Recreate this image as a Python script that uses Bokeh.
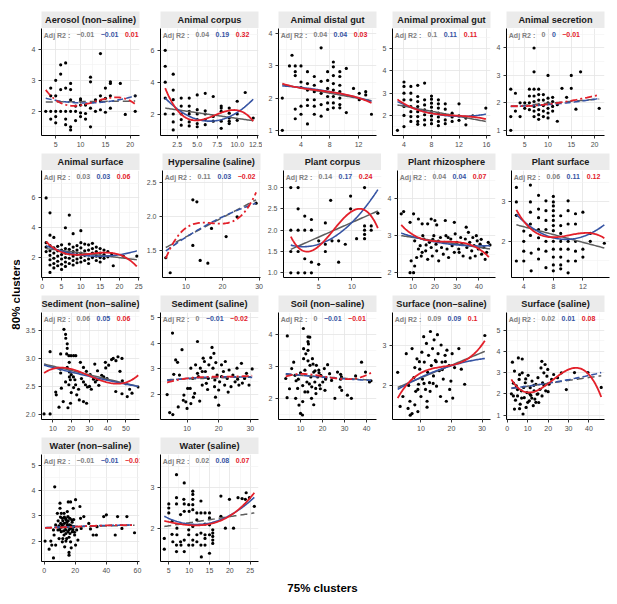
import numpy as np
from bokeh.plotting import figure
from bokeh.layouts import row, column
from bokeh.models import FixedTicker, Range1d, Spacer, PrintfTickFormatter
from bokeh.core.properties import value
from bokeh.embed import file_html
from bokeh.resources import INLINE

# ---------------- data ----------------
names = ["Aerosol (non–saline)", "Animal corpus", "Animal distal gut", "Animal proximal gut", "Animal secretion",
         "Animal surface", "Hypersaline (saline)", "Plant corpus", "Plant rhizosphere", "Plant surface",
         "Sediment (non–saline)", "Sediment (saline)", "Soil (non–saline)", "Surface (non–saline)", "Surface (saline)",
         "Water (non–saline)", "Water (saline)"]

r2_gray = [-0.01, 0.04, 0.04, 0.1, 0, 0.03, 0.11, 0.14, 0.04, 0.06, 0.06, 0, 0, 0.09, 0.02, -0.01, 0.02]
r2_blue = [-0.01, 0.19, 0.04, 0.11, 0, 0.03, 0.03, 0.17, 0.04, 0.11, 0.05, -0.01, -0.01, 0.09, 0.01, -0.01, 0.08]
r2_red = [0.01, 0.32, 0.03, 0.11, -0.01, 0.06, -0.02, 0.24, 0.07, 0.12, 0.06, -0.02, -0.01, 0.1, 0.08, -0.01, 0.07]

# dashed (non-significant) flags for gray / blue / red fits
dashed = [(1, 1, 1), (0, 0, 0), (0, 0, 0), (0, 0, 0), (1, 1, 1), (0, 0, 0), (1, 1, 1), (0, 0, 0), (0, 0, 0),
          (0, 0, 0), (0, 0, 0), (1, 1, 1), (1, 1, 1), (0, 0, 0), (1, 1, 0), (1, 1, 1), (1, 0, 0)]

x_limits = [(2.14, 21.86), (0.41, 12.66), (0.87, 14.5), (2.33, 16.58), (1.08, 22.14),
            (-0.2, 25.2), (3.6, 30.4), (-0.3, 14.45), (3.0, 47.5), (2.34, 15.6),
            (3.7, 57.4), (1.6, 32.6), (0.0, 44.5), (0.7, 32.75), (-0.4, 47.6),
            (-1.7, 61.3), (2.97, 27.03)]
y_limits = [(1.22, 4.67), (0.65, 7.37), (0.84, 4.16), (1.1, 5.9), (0.81, 4.71),
            (0.66, 7.84), (1.11, 2.68), (0.89, 3.4), (1.87, 4.76), (1.08, 3.8),
            (1.91, 3.82), (1.03, 5.2), (1.34, 4.68), (1.14, 3.84), (0.79, 5.83),
            (1.19, 5.43), (1.19, 3.79)]
x_ticks = [[5, 10, 15, 20], [2.5, 5.0, 7.5, 10.0, 12.5], [4, 8, 12], [4, 8, 12, 16], [5, 10, 15, 20],
           [0, 5, 10, 15, 20, 25], [10, 20, 30], [5, 10], [10, 20, 30, 40], [4, 8, 12],
           [10, 20, 30, 40, 50], [10, 20, 30], [10, 20, 30, 40], [10, 20, 30], [0, 10, 20, 30, 40],
           [0, 20, 40, 60], [5, 10, 15, 20, 25]]
y_ticks = [[2, 3, 4], [2, 4, 6], [1, 2, 3, 4], [2, 3, 4, 5], [1, 2, 3, 4],
           [2, 4, 6], [1.5, 2.0, 2.5], [1.0, 1.5, 2.0, 2.5, 3.0], [2, 3, 4], [2, 3],
           [2.0, 2.5, 3.0, 3.5], [2, 3, 4, 5], [2, 3, 4], [2, 3], [1, 2, 3, 4, 5],
           [2, 3, 4, 5], [2, 3]]

aerosol_pts = [(3, 2.0), (4, 2.75), (4, 2.5), (4, 2.0), (4, 1.75), (5, 3.0), (5, 2.5), (5, 2.0), (5, 1.83), (5, 1.63),
               (6, 3.2), (6, 3.5), (6, 2.7), (6, 2.0), (7, 3.56), (7, 2.75), (7, 2.0), (7, 1.75), (7, 1.57),
               (8, 2.9), (8, 2.7), (8, 2.37), (8, 2.0), (8, 1.5), (8, 1.4), (9, 2.17), (9, 1.7), (9, 2.0),
               (10, 2.4), (10, 2.33), (10, 1.95), (10, 1.83), (10, 2.2), (11, 2.2), (11, 1.93), (11, 1.75),
               (12, 3.1), (12, 2.95), (12, 2.1), (12, 1.5), (13, 2.37), (13, 2.0), (14, 3.86), (14, 2.5),
               (14, 2.33), (14, 2.05), (15, 2.75), (15, 2.42), (15, 1.97), (16, 2.95), (16, 2.9), (16, 2.5),
               (16, 2.1), (18, 2.9), (19, 1.9), (21, 2.5), (21, 2.0)]
corpus_pts = [(1, 6.0), (1, 5.0), (1, 4.0), (1, 3.0), (1, 2.0), (2, 4.5), (2, 3.5), (2, 2.9), (2, 2.0), (2, 1.5),
              (2, 1.0), (3, 3.0), (3, 2.5), (3, 2.0), (3, 1.65), (3, 1.3), (4, 3.0), (4, 2.5), (4, 2.17), (4, 2.0),
              (4, 1.5), (4, 1.25), (5, 3.2), (5, 2.27), (5, 2.0), (5, 1.65), (5, 1.4), (5, 1.2), (6, 3.3), (6, 2.2),
              (6, 2.0), (6, 1.65), (6, 1.33), (7, 3.1), (7, 1.85), (7, 1.55), (8, 2.5), (8, 2.37), (8, 2.17),
              (8, 1.55), (8, 1.1), (9, 2.37), (9, 2.05), (9, 1.75), (9, 1.55), (9, 1.4), (10, 2.8), (10, 2.0),
              (10, 1.6), (11, 3.35), (12, 1.75)]
distal_pts = [(1.4, 2.0), (1.4, 1.0), (2.75, 3.33), (2.4, 3.0), (3.2, 3.0), (4, 3.0), (3.2, 2.82), (3.2, 2.7),
              (3.2, 1.66), (3.2, 1.36), (4, 2.5), (4, 2.33), (4, 1.75), (4, 1.5), (4.9, 2.82), (4.9, 2.45),
              (4.9, 2.25), (4.9, 1.95), (4.9, 1.77), (4.9, 1.2), (5.85, 2.67), (5.85, 2.4), (5.85, 2.2),
              (5.85, 1.95), (5.85, 1.75), (5.85, 1.5), (6.8, 3.56), (6.8, 2.52), (6.8, 2.15), (6.8, 1.8),
              (6.8, 1.44), (7.7, 2.82), (7.7, 2.55), (7.7, 2.3), (7.7, 2.05), (7.7, 1.85), (7.7, 1.65),
              (8.5, 3.12), (8.5, 2.97), (8.5, 2.7), (8.5, 2.45), (8.5, 2.25), (8.5, 2.05), (8.5, 1.85), (8.5, 1.7),
              (9.4, 2.82), (9.4, 2.67), (9.4, 2.4), (9.4, 2.2), (9.4, 2.0), (9.4, 1.8), (9.4, 1.7), (10.3, 2.92),
              (10.3, 1.55), (11.3, 2.3), (12.1, 2.15), (12.1, 1.95), (13, 2.1), (13, 2.2), (13.8, 1.5)]
proximal_pts = [(3.05, 1.33), (4, 3.5), (4, 3.3), (4, 3.0), (4, 2.7), (4, 2.4), (4, 2.0), (4, 1.5), (5, 3.3), (5, 3.0),
                (5, 2.7), (5, 2.4), (5, 2.17), (5, 1.95), (5, 1.73), (6, 3.35), (6, 2.85), (6, 2.62), (6, 2.4),
                (6, 2.17), (6, 1.95), (6, 1.73), (6, 1.6), (7, 3.45), (7, 2.7), (7, 2.47), (7, 2.25), (7, 2.03),
                (7, 1.8), (7, 1.58), (8, 2.87), (8, 2.73), (8, 2.55), (8, 2.37), (8, 2.18), (8, 1.98), (8, 1.8),
                (8, 1.63), (9, 2.7), (9, 2.52), (9, 2.33), (9, 2.1), (9, 1.93), (9, 1.73), (9, 1.54), (10, 2.52),
                (10, 2.28), (10, 2.03), (10, 1.8), (10, 1.63), (11, 2.1), (11, 1.93), (11, 1.73), (12, 2.52),
                (12, 1.98), (12, 1.78), (13, 1.88), (13, 1.58), (14, 1.98), (15.9, 2.33)]
secretion_pts = [(2, 2.5), (2, 1.5), (2, 1.0), (3, 2.35), (3, 1.7), (4, 2.0), (4, 1.5), (5, 2.0), (5, 1.8), (6, 2.5),
                 (6, 2.25), (6, 2.0), (6, 1.75), (7, 4.0), (7, 3.13), (7, 2.5), (7, 2.25), (7, 2.05), (7, 1.87),
                 (7, 1.7), (7, 1.5), (8, 2.5), (8, 2.3), (8, 2.1), (8, 1.93), (8, 1.75), (8, 1.57), (8, 1.4),
                 (9, 2.3), (9, 2.1), (9, 1.9), (9, 1.7), (9, 1.5), (10, 3.0), (10, 2.17), (10, 2.0), (10, 1.8),
                 (10, 1.63), (10, 1.45), (11, 2.2), (11, 2.05), (11, 1.87), (11, 1.7), (12, 1.93), (12, 1.33),
                 (13, 2.53), (14, 2.2), (15, 3.0), (15, 2.53), (16, 1.77), (17, 3.13), (21, 1.8)]
asurface_pts = [(1, 6.0), (2, 5.0), (2, 3.5), (3, 3.35), (6, 4.0), (7, 4.85), (8, 3.6), (10, 3.8), (1, 3.0),
                (21, 2.1), (24.5, 2.1), (18.4, 1.45), (1, 2.7), (1, 2.4), (2, 2.8), (2, 2.45), (2, 2.15), (2, 1.85),
                (2, 1.5), (2, 1.0), (3, 2.65), (3, 2.3), (3, 1.95), (3, 1.6), (3, 1.3), (4, 2.75), (4, 2.45),
                (4, 2.1), (4, 1.75), (4, 1.45), (5, 2.85), (5, 2.5), (5, 2.2), (5, 1.9), (5, 1.55), (5, 1.2),
                (6, 2.6), (6, 2.3), (6, 2.0), (6, 1.7), (6, 1.4), (7, 2.9), (7, 2.55), (7, 2.25), (7, 1.95),
                (7, 1.6), (8, 2.7), (8, 2.4), (8, 2.1), (8, 1.8), (8, 1.5), (9, 2.8), (9, 2.5), (9, 2.2), (9, 1.9),
                (9, 1.65), (10, 3.0), (10, 2.65), (10, 2.3), (10, 2.0), (10, 1.7), (11, 2.9), (11, 2.45),
                (11, 2.15), (11, 1.8), (12, 2.85), (12, 2.5), (12, 2.2), (12, 1.9), (12, 1.6), (13, 2.95),
                (13, 2.6), (13, 2.3), (13, 2.0), (14, 2.7), (14, 2.4), (14, 2.1), (14, 1.8), (15, 2.6), (15, 2.3),
                (15, 2.0), (15, 1.7), (16, 2.5), (16, 2.2), (16, 1.95), (17, 2.4), (17, 2.05), (18, 2.25)]
hyper_pts = [(4.5, 1.4), (5.7, 1.18), (11.9, 2.25), (13, 2.22), (11.9, 1.58), (13.9, 1.36), (16, 1.32), (17, 1.83),
             (21, 1.71), (24, 2.0), (29.2, 2.2)]
pcorpus_pts = [(0.8, 3.0), (1.9, 3.0), (0.8, 2.0), (1.9, 2.0), (2.9, 2.0), (3.9, 2.0), (0.8, 1.0), (1.9, 1.0),
               (2.9, 1.0), (3.9, 1.0), (1.9, 2.5), (2.9, 2.33), (3.9, 2.25), (0.8, 1.5), (1.9, 1.5), (2.9, 1.33),
               (3.9, 1.25), (5, 1.2), (5, 1.75), (6, 2.17), (6, 1.5), (6, 1.67), (6.8, 2.7), (7, 1.75), (8, 1.25),
               (8, 1.75), (9, 1.67), (9.8, 2.8), (9.8, 2.5), (10.7, 1.8), (11.9, 3.0), (11.9, 2.1), (11.9, 2.0),
               (11.9, 1.8), (11.9, 1.9), (12.9, 2.1), (12.9, 2.0), (13.9, 2.4)]
rhizo_pts = [(4.7, 3.59), (5.8, 3.65), (10.3, 3.59), (8.7, 3.36), (9.2, 2.32), (8.7, 2.0), (10.3, 2.0), (12.5, 3.45),
             (14.2, 3.32), (16.7, 3.32), (18.3, 3.45), (20, 3.41), (20.8, 3.29), (24.7, 3.41), (28.8, 3.36),
             (34.2, 3.23), (12.5, 2.64), (13.3, 2.73), (14.2, 2.55), (13.8, 2.45), (15, 2.91), (15.8, 2.59),
             (16.7, 2.36), (17.5, 2.82), (18.3, 2.68), (18.8, 2.45), (19.5, 3.0), (20.5, 2.77), (20.8, 2.59),
             (21.7, 2.32), (22.5, 2.95), (23, 2.68), (23.8, 2.5), (24.2, 2.82), (25, 3.0), (25.5, 2.64),
             (26.2, 2.41), (27.2, 2.91), (27.8, 2.73), (28.8, 2.55), (29.2, 3.05), (30, 2.82), (30.8, 2.64),
             (31.7, 2.95), (32.2, 2.77), (32.8, 2.45), (33.8, 2.91), (34.5, 2.68), (35.2, 3.09), (35.8, 2.82),
             (36.7, 2.59), (37.2, 2.95), (37.8, 2.73), (38.3, 2.45), (39.2, 2.86), (39.7, 2.64), (40.5, 2.77),
             (41.2, 2.5), (42.2, 2.68), (42.8, 2.36), (44.2, 2.82), (10.8, 2.86), (11.7, 2.41), (10.8, 2.18),
             (14.5, 3.0), (16, 2.75), (19, 2.9), (21.5, 2.85), (26, 2.95), (31, 2.55), (36, 2.4), (38.8, 3.0),
             (41, 2.9), (43.5, 2.55), (45, 2.75)]
psurface_pts = [(3, 3.37), (3, 3.0), (3, 2.66), (3, 1.5), (4, 2.26), (4, 2.0), (4, 1.75), (4, 1.5), (4.9, 3.43),
                (4.9, 3.0), (4.9, 2.74), (4.9, 2.44), (4.9, 2.15), (5, 1.7), (5, 1.25), (6, 3.17), (6, 2.82),
                (6, 2.6), (6, 2.3), (6, 2.09), (6, 1.8), (6, 1.55), (7, 3.03), (7, 2.78), (7, 2.53), (7, 2.3),
                (7, 2.0), (7, 1.75), (7, 1.33), (8, 3.14), (8, 3.0), (8, 2.9), (8, 2.78), (8, 2.65), (8, 2.53),
                (8, 2.4), (8, 2.27), (8, 2.0), (8, 1.8), (8, 1.6), (8, 1.4), (8, 1.25), (9, 2.65), (9, 2.4),
                (9, 2.2), (9, 2.0), (9, 1.8), (9, 1.6), (9, 1.4), (9, 1.3), (10, 3.03), (10, 2.78), (10, 2.44),
                (10, 2.0), (10, 1.8), (10, 1.5), (10, 1.2), (11, 2.7), (11, 2.44), (11, 2.0), (11, 1.75), (11, 1.5),
                (12, 2.74), (12, 1.8), (12, 1.6), (13, 2.2), (13, 2.0), (14.9, 1.95)]
sedns_pts = [(5.1, 2.01), (8.4, 2.01), (8.4, 3.12), (11.8, 2.35), (13.3, 2.13), (14.2, 3.08), (16, 3.52), (16.9, 3.43),
             (17, 3.36), (17.8, 3.26), (17.8, 3.18), (17.5, 3.08), (18.7, 3.05), (19.9, 3.05), (21.3, 3.05),
             (22.5, 3.05), (14, 2.81), (18.9, 2.93), (14.2, 2.74), (17.8, 2.84), (19, 2.76), (20, 2.71), (21.2, 2.67),
             (22, 2.62), (19, 2.67), (19.5, 2.62), (16.9, 2.58), (18.7, 2.53), (14.6, 2.47), (11.5, 2.4),
             (21.3, 2.48), (22.4, 2.53), (20, 2.39), (25, 2.93), (26.7, 2.84), (28.3, 2.77), (30.4, 2.71),
             (34.2, 2.62), (33.2, 2.58), (37.8, 2.67), (42.1, 2.98), (43, 3.0), (44.5, 2.96), (38.7, 2.93),
             (40.5, 2.88), (45.6, 3.03), (47.8, 3.0), (38.9, 2.83), (46.7, 2.77), (44.4, 2.41), (47.8, 2.37),
             (50.7, 2.32), (53.3, 2.38), (56.7, 2.49), (18.2, 2.12), (19.6, 2.2), (24.4, 2.26), (26.7, 2.23),
             (28.4, 2.2), (15.6, 2.23), (25.6, 2.64), (26.7, 2.58), (27.8, 2.53), (28.9, 2.49), (32.9, 2.9),
             (34.4, 2.78), (36.7, 2.7), (32.2, 2.63), (35.1, 2.52), (39.6, 2.64), (30, 2.5), (31, 2.45), (24, 2.45),
             (23, 2.35), (48, 2.6), (50, 2.55), (52, 2.45)]
seds_pts = [(3.7, 2.0), (4.5, 1.3), (5.5, 1.22), (5.4, 4.4), (5.8, 2.79), (7, 3.26), (6.4, 3.35), (8.4, 3.75),
            (7.6, 2.76), (7.2, 1.52), (8.8, 1.78), (9, 1.98), (9.6, 1.72), (10.2, 2.24), (11, 2.24), (10, 1.46),
            (11.2, 1.65), (12.4, 2.05), (13.3, 4.07), (13.6, 2.7), (14.2, 3.03), (14.8, 2.37), (15.5, 3.29),
            (15.8, 2.9), (16.7, 2.63), (16.9, 3.16), (17.5, 3.44), (17.9, 3.84), (18.5, 3.61), (18.7, 2.31),
            (19.1, 3.25), (19.5, 2.76), (20, 2.18), (20, 1.59), (20.3, 2.5), (20.9, 3.16), (21.5, 2.9), (22.1, 3.29),
            (22.7, 2.63), (23.3, 2.96), (23.9, 2.31), (24.5, 2.76), (25.2, 2.5), (25.8, 3.03), (26.4, 2.37),
            (27.2, 3.22), (28.2, 2.63), (28.8, 2.83), (30.6, 3.0), (29.6, 2.37), (11.2, 3.03), (11.8, 2.63),
            (12.7, 3.16), (13.3, 2.83), (14.8, 2.9), (15.1, 3.42), (16.1, 2.44), (18.2, 3.03), (18.8, 2.57),
            (20.9, 2.7), (21.9, 2.37), (12, 1.9), (14, 1.75), (16.5, 2.2), (19, 1.9), (23, 2.1), (26, 2.6),
            (27.5, 2.45)]
soil_pts = [(3.3, 2.62), (3.9, 2.02), (6, 2.93), (6.9, 3.13), (7.5, 2.72), (7.8, 2.0), (8.7, 2.31), (9.3, 1.79),
            (10, 1.53), (10.9, 1.48), (11.4, 3.55), (11.4, 3.24), (12, 2.88), (12.4, 3.39), (12.9, 2.51),
            (13.3, 2.2), (13.6, 3.7), (14.2, 3.91), (14.3, 3.03), (14.7, 2.67), (15.1, 2.36), (15.4, 3.24), (16, 2.82),
            (16.5, 2.51), (16.9, 2.31), (17.2, 3.03), (17.8, 2.67), (18.3, 2.88), (18.7, 2.41), (19.2, 2.72),
            (20.1, 2.51), (20.8, 2.93), (21.4, 2.62), (22.3, 3.05), (23.2, 2.77), (24.1, 2.56), (25.6, 2.0),
            (26.8, 2.82), (28.6, 2.67), (31.3, 2.1), (33.1, 2.0), (37.7, 3.13), (39.5, 2.82), (41.3, 2.51),
            (4, 3.95), (11.3, 4.18), (13.4, 3.92), (13.4, 3.77), (13.4, 3.5), (13.4, 3.17), (15.7, 3.07),
            (16.6, 2.86), (18.4, 2.8), (21.4, 2.6), (28.2, 2.75), (28.2, 2.6), (35, 2.7), (42, 2.55), (21.1, 2.25),
            (27.9, 2.35), (28.7, 2.25), (9, 2.6), (10, 2.8), (11, 2.4), (12, 2.2), (14, 2.45), (15, 2.0), (17, 2.15),
            (19, 2.3), (11, 1.9), (16, 1.8), (5, 2.3), (8, 2.55)]
surfns_pts = [(2.4, 2.33), (3.2, 1.47), (4.1, 1.72), (5.2, 2.8), (5.8, 1.42), (6.4, 1.6), (7.1, 2.93), (7.1, 1.29),
              (7.7, 2.2), (8, 1.51), (8.3, 1.85), (8.7, 2.67), (9, 1.34), (9.2, 2.03), (9.6, 2.41), (10, 1.72),
              (10.3, 2.84), (10.5, 2.16), (10.9, 3.23), (11.1, 2.59), (11.5, 1.9), (11.8, 3.06), (12.2, 2.33),
              (12.5, 2.76), (12.8, 2.07), (13.1, 3.36), (13.4, 2.5), (13.8, 2.93), (14.1, 2.24), (14.3, 3.15),
              (14.7, 2.63), (15.1, 1.98), (15.4, 3.28), (15.6, 2.8), (16, 2.37), (16.4, 1.72), (16.6, 3.02),
              (16.9, 2.59), (17.3, 2.16), (17.9, 2.76), (18.3, 1.6), (18.5, 2.89), (19.2, 2.5), (19.4, 1.9),
              (19.8, 2.11), (20.2, 2.8), (20.4, 1.68), (22.4, 2.93), (23.2, 2.41), (24.3, 2.03), (30.9, 3.26),
              (6, 2.0), (8, 2.45), (9, 1.9), (11, 2.05), (12, 1.6), (13, 1.85), (14, 2.05), (15, 2.6), (17, 2.4),
              (18, 2.6), (21, 2.45), (12, 1.45), (6.5, 1.25), (9.5, 2.6)]
surfs_pts = [(2.5, 3.49), (3.5, 3.07), (5.4, 3.69), (7.3, 3.64), (4.4, 2.37), (5, 1.9), (5.8, 2.68), (6.3, 1.51),
             (6.9, 2.14), (7.3, 2.99), (7.7, 1.05), (8.3, 1.82), (8.8, 2.52), (9.2, 1.36), (9.6, 2.06), (10.2, 2.87),
             (10.8, 1.67), (11.2, 2.29), (11.5, 1.93), (12.1, 2.6), (12.7, 1.44), (13.1, 2.14), (13.5, 1.75),
             (14, 2.45), (14.6, 1.98), (15, 2.76), (15.4, 1.59), (16, 2.21), (16.5, 3.22), (16.9, 3.53), (17.3, 2.52),
             (17.9, 2.99), (18.5, 3.38), (18.8, 2.14), (19.4, 2.83), (19.8, 3.15), (20.4, 2.45), (21.7, 2.68),
             (22.7, 2.91), (24.6, 2.76), (26.5, 2.99), (28.9, 2.2), (32.9, 3.0), (39.5, 3.0), (46, 2.3), (3.5, 1.28),
             (2, 2.0), (3, 2.5), (4, 1.7), (5, 2.2), (6, 2.9), (7, 1.8), (8, 2.3), (9, 2.7), (10, 1.6), (11, 2.0),
             (12, 1.8), (13, 2.4), (14, 1.6), (15, 2.0), (17, 1.9), (18, 2.4), (20, 2.1), (3, 1.9), (6, 1.3)]
waterns_pts = [(0.6, 2.0), (3.2, 1.68), (4.3, 2.0), (4.9, 1.84), (6, 1.33), (6.8, 4.15), (6, 2.44), (6.4, 2.24),
               (7.4, 2.64), (7.4, 1.84), (8.5, 3.1), (8.9, 2.44), (9.6, 2.1), (10.2, 3.3), (10.2, 3.5), (10.6, 2.7),
               (11, 3.1), (11, 2.37), (11.7, 2.9), (11.7, 1.97), (12.3, 2.57), (12.8, 3.1), (12.8, 2.24), (13.2, 1.77),
               (13.8, 2.9), (13.8, 2.44), (14.5, 2.75), (14.5, 2.1), (14.9, 3.17), (14.9, 2.57), (15.3, 2.37),
               (15.3, 2.97), (15.5, 3.55), (16, 1.55), (16, 1.44), (16.4, 2.64), (16.6, 2.3), (17, 3.55), (17, 2.5),
               (17, 1.97), (17.4, 1.73), (17.7, 2.84), (18.1, 2.37), (18.7, 3.3), (19.1, 2.57), (19.6, 2.24),
               (20.2, 3.64), (20.2, 1.84), (20.9, 2.44), (21.7, 2.04), (23, 3.37), (23.4, 2.9), (23.8, 2.5),
               (25.5, 2.97), (28.7, 2.7), (29.8, 2.48), (31.5, 2.24), (33.6, 2.24), (34, 2.57), (38.3, 2.97),
               (40, 3.04), (45.7, 2.24), (47.2, 2.97), (50, 2.5), (53.2, 2.97), (58.1, 2.33), (9, 2.8), (9.5, 2.6),
               (10, 2.45), (10.5, 2.95), (11.5, 2.65), (12, 2.8), (12.5, 2.4), (13, 2.7), (13.5, 2.55), (14, 2.85),
               (14, 2.3), (15, 2.65), (15.5, 2.8), (16, 2.45), (16.5, 2.9), (17.5, 2.6), (18, 2.75), (18.5, 2.45),
               (19, 2.85), (19.5, 2.35), (12, 2.1), (14, 2.0), (16, 2.15), (11, 2.55), (13, 2.95)]
waters_pts = [(3.9, 1.75), (3.9, 1.49), (5, 2.49), (5, 2.59), (5, 2.37), (5.8, 2.16), (5.8, 1.85), (6, 1.67),
              (6.9, 3.3), (6.9, 2.74), (6.9, 2.59), (6.9, 1.59), (6.9, 1.43), (7, 2.0), (7, 1.84), (7.9, 2.33),
              (7.9, 1.67), (8, 1.59), (8.7, 2.7), (8.8, 3.1), (8.8, 2.59), (8.8, 2.41), (8.8, 1.71), (8.8, 1.43),
              (9.9, 1.96), (9.9, 1.84), (9.9, 2.57), (10, 2.41), (9.9, 1.59), (10.9, 2.9), (10.9, 2.82), (10.9, 2.7),
              (10.9, 2.57), (10.9, 2.45), (10.9, 2.04), (10.9, 1.71), (10.9, 1.59), (11.9, 2.37), (11.9, 2.2),
              (11.9, 1.84), (11.9, 1.67), (12.9, 2.66), (12.9, 2.37), (12.9, 1.88), (12.9, 1.59), (13, 1.3),
              (13.9, 2.37), (13.9, 2.1), (13.9, 1.84), (13.9, 1.75), (13.9, 1.59), (15, 2.37), (15, 2.25), (15, 2.08),
              (15, 1.84), (15, 1.39), (15.8, 1.96), (15.8, 1.88), (15.8, 1.8), (15.8, 1.71), (15.8, 1.63),
              (17.8, 2.78), (17.8, 2.29), (18.9, 2.0), (19.9, 2.7), (20.9, 2.0), (22, 2.74), (23, 2.72), (23.8, 2.7),
              (24, 2.86), (24.8, 2.74), (26, 2.53)]

points = [aerosol_pts, corpus_pts, distal_pts, proximal_pts, secretion_pts, asurface_pts, hyper_pts, pcorpus_pts,
          rhizo_pts, psurface_pts, sedns_pts, seds_pts, soil_pts, surfns_pts, surfs_pts, waterns_pts, waters_pts]

# fitted curves, read at a few x positions: linear (gray), quadratic (blue), cubic (red)
fit_gray = [([3, 21], [2.3, 2.33]), ([1, 12], [2.37, 1.58]), ([1.4, 13.8], [2.42, 1.92]),
            ([3.05, 15.9], [2.47, 1.73]), ([2, 21], [1.87, 2.14]), ([1, 24.5], [2.6, 1.85]),
            ([4.5, 29.2], [1.55, 2.25]), ([0.8, 13.9], [1.55, 2.45]), ([4.7, 45], [3.0, 2.64]),
            ([3, 14.9], [2.42, 1.83]), ([5.1, 56.7], [2.9, 2.5]), ([3.7, 30.6], [2.58, 2.7]),
            ([3.3, 42], [2.75, 2.57]), ([2.4, 30.9], [1.95, 2.86]), ([2, 46], [2.25, 2.85]),
            ([0.6, 58.1], [2.53, 2.63]), ([3.9, 26], [2.04, 2.37])]
fit_blue = [([3, 12, 21], [2.42, 2.27, 2.5]), ([1, 6.5, 12], [3.0, 1.55, 2.93]), ([1.4, 7.5, 13.8], [2.38, 2.22, 1.9]),
            ([3.05, 11.7, 15.9], [2.62, 1.96, 2.06]), ([2, 11, 21], [1.87, 1.95, 2.16]),
            ([1, 12.8, 24.5], [2.79, 2.1, 2.45]), ([4.5, 15, 29.2], [1.5, 1.86, 2.2]),
            ([0.8, 3.5, 13.9], [1.65, 1.62, 2.95]), ([4.7, 30, 45], [3.07, 2.75, 2.73]),
            ([3, 9.5, 14.9], [2.68, 2.05, 2.42]), ([5.1, 30, 56.7], [2.88, 2.68, 2.5]),
            ([3.7, 17, 30.6], [2.55, 2.68, 2.67]), ([3.3, 22, 42], [2.77, 2.65, 2.56]),
            ([2.4, 18, 30.9], [1.9, 2.45, 2.68]), ([2, 20, 46], [2.27, 2.5, 3.0]),
            ([0.6, 30, 58.1], [2.53, 2.6, 2.64]), ([3.9, 13.5, 26], [2.29, 2.1, 2.75])]
fit_red = [([3, 8, 17, 21], [2.69, 2.18, 2.45, 2.23]), ([1, 5, 9.5, 12], [3.62, 1.6, 2.25, 1.55]),
           ([1.4, 5, 10, 13.8], [2.45, 2.28, 2.12, 1.85]), ([3.05, 6, 11, 15.9], [2.72, 2.25, 2.0, 1.84]),
           ([2, 7, 14, 21], [1.88, 1.9, 2.05, 2.29]), ([1, 7, 16, 24.5], [3.07, 2.22, 2.33, 1.4]),
           ([4.5, 11, 19, 29.2], [1.39, 1.87, 1.9, 2.36]), ([0.8, 3.5, 11, 13.9], [1.85, 1.5, 2.5, 2.05]),
           ([4.7, 15, 31, 44.5], [3.29, 2.9, 2.82, 2.42]), ([3, 7, 11.5, 14.9], [2.8, 2.12, 2.2, 2.08]),
           ([5.1, 17, 44, 56.7], [2.74, 2.83, 2.55, 2.7]), ([3.7, 12, 22, 30.6], [2.47, 2.66, 2.7, 2.74]),
           ([3.3, 12, 30, 42], [2.68, 2.76, 2.6, 2.8]), ([2.4, 11.5, 23, 30.9], [1.68, 2.37, 2.58, 3.13]),
           ([2, 9, 33, 46], [2.68, 2.08, 3.22, 1.85]), ([0.6, 20, 40, 58.1], [2.52, 2.57, 2.62, 2.63]),
           ([3.9, 12.5, 20, 26], [2.18, 2.07, 2.3, 2.86])]

x_title = "75% clusters"
y_title = "80% clusters"

# ---------------- style ----------------
FONT = "Liberation Sans"
GRAY, BLUE, RED = "#5E5E5E", "#3553A3", "#E3202A"
LBL_GRAY = "#808080"
BORDER_L = [21, 17, 16, 12, 12]
BORDER_R = [4, 4, 3, 3, 5]
FW, FH, SH, BB = 98, 107, 17, 18
TOP_PAD, YLAB_W = 11, 20
DASH = {"gray": "7 4", "blue": "6 3", "red": "7 3 2 3"}

CW = {'0': .556, '1': .556, '2': .556, '3': .556, '4': .556, '5': .556, '6': .556, '7': .556, '8': .556,
      '9': .556, '.': .278, '−': .584}


def tw(s, size=7.0):
    return sum(CW.get(c, 0.556) for c in s) * size


def r2txt(v):
    return f"{v:g}".replace("-", "−")


def minor_of(ticks):
    step = ticks[1] - ticks[0] if len(ticks) > 1 else 1
    return [t - step / 2 for t in ticks] + [ticks[-1] + step / 2]


def fmt_for(ticks):
    return "%d" if all(float(t).is_integer() for t in ticks) else "%.1f"


def style_axis(ax):
    ax.axis_line_color = "black"
    ax.axis_line_width = 1
    ax.major_tick_line_color = "#333333"
    ax.major_tick_out = 3
    ax.major_tick_in = 0
    ax.minor_tick_line_color = None
    ax.major_label_text_font = FONT
    ax.major_label_text_font_size = "7px"
    ax.major_label_text_color = "#4D4D4D"
    ax.major_label_standoff = 2


def make_panel(i):
    c = i % 5
    xl, yl = x_limits[i], y_limits[i]
    p = figure(frame_width=FW, frame_height=FH, x_range=Range1d(*xl), y_range=Range1d(*yl),
               output_backend="svg", toolbar_location=None, tools="",
               min_border_left=BORDER_L[c], min_border_right=BORDER_R[c], min_border_top=0, min_border_bottom=BB)
    p.outline_line_color = None
    p.background_fill_color = "white"
    p.border_fill_color = "white"
    p.xaxis.ticker = FixedTicker(ticks=x_ticks[i], minor_ticks=minor_of(x_ticks[i]))
    p.yaxis.ticker = FixedTicker(ticks=y_ticks[i], minor_ticks=minor_of(y_ticks[i]))
    p.xaxis.formatter = PrintfTickFormatter(format=fmt_for(x_ticks[i]))
    p.yaxis.formatter = PrintfTickFormatter(format=fmt_for(y_ticks[i]))
    style_axis(p.xaxis[0])
    style_axis(p.yaxis[0])
    for g in (p.xgrid[0], p.ygrid[0]):
        g.grid_line_color = "#E4E4E4"
        g.grid_line_width = 0.8
        g.minor_grid_line_color = "#F1F1F1"
        g.minor_grid_line_width = 0.6

    pts = points[i]
    p.scatter([a for a, b in pts], [b for a, b in pts], size=3.2, color="black", line_width=0)

    for k, (key, color, fits, w) in enumerate((("gray", GRAY, fit_gray, 1.5), ("blue", BLUE, fit_blue, 1.6),
                                               ("red", RED, fit_red, 1.8))):
        fx, fy = fits[i]
        coef = np.polyfit(fx, fy, len(fx) - 1)
        xx = np.linspace(min(fx), max(fx), 80)
        yy = np.polyval(coef, xx)
        dash = DASH[key] if dashed[i][k] else "solid"
        p.line(xx, yy, line_color=color, line_width=w, line_dash=dash)

    # adjusted R2 annotation, top-left of the panel
    g_txt, b_txt, r_txt = r2txt(r2_gray[i]), r2txt(r2_blue[i]), r2txt(r2_red[i])
    x0 = 35.0
    x1 = x0 + tw(g_txt) + 6.5
    x2 = x1 + tw(b_txt) + 6.5
    for txt, col, off in (("Adj R2 :", LBL_GRAY, 2.3), (g_txt, LBL_GRAY, x0), (b_txt, BLUE, x1), (r_txt, RED, x2)):
        p.text(x=[xl[0]], y=[yl[1]], text=[txt], x_offset=off, y_offset=3.5, text_align="left",
               text_baseline="top", text_font=value(FONT), text_font_style="bold", text_font_size="7px",
               text_color=col)
    return p


def make_strip(i):
    c = i % 5
    s = figure(frame_width=FW, frame_height=SH, x_range=(0, 1), y_range=(0, 1), output_backend="svg",
               toolbar_location=None, tools="", x_axis_location=None, y_axis_location=None,
               min_border_left=BORDER_L[c], min_border_right=BORDER_R[c], min_border_top=0, min_border_bottom=0)
    s.grid.visible = False
    s.outline_line_color = None
    s.background_fill_color = "#EBEBEB"
    s.border_fill_color = "white"
    s.text(x=[0.5], y=[0.5], text=[names[i]], text_align="center", text_baseline="middle",
           text_font=value(FONT), text_font_style="bold", text_font_size="9.2px", text_color="#1A1A1A")
    return s


cells = [column(make_strip(i), make_panel(i)) for i in range(len(names))]
grid_rows = [row(*cells[k:k + 5]) for k in range(0, len(cells), 5)]
grid_h = TOP_PAD + len(grid_rows) * (SH + FH + BB)

ylab = figure(width=YLAB_W, height=grid_h, x_range=(0, 1), y_range=(0, 1), output_backend="svg",
              toolbar_location=None, tools="", x_axis_location=None, y_axis_location=None, min_border=0)
ylab.grid.visible = False
ylab.outline_line_color = None
ylab.text(x=[0.5], y=[0.5], text=[y_title], angle=np.pi / 2, x_offset=5, y_offset=4.5, text_align="center",
          text_baseline="middle", text_font=value(FONT), text_font_style="bold", text_font_size="11.5px",
          text_color="black")

xlab = figure(width=587, height=17, x_range=(0, 1), y_range=(0, 1), output_backend="svg", toolbar_location=None,
              tools="", x_axis_location=None, y_axis_location=None, min_border=0)
xlab.grid.visible = False
xlab.outline_line_color = None
xlab.text(x=[0.5], y=[0.5], text=[x_title], x_offset=8.5, text_align="center", text_baseline="middle",
          text_font=value(FONT), text_font_style="bold", text_font_size="11.5px", text_color="black")

main = column(Spacer(width=10, height=TOP_PAD), *grid_rows, xlab)
layout = row(ylab, main)

open("out.html", "w").write(file_html(layout, INLINE, title="clusters"))
